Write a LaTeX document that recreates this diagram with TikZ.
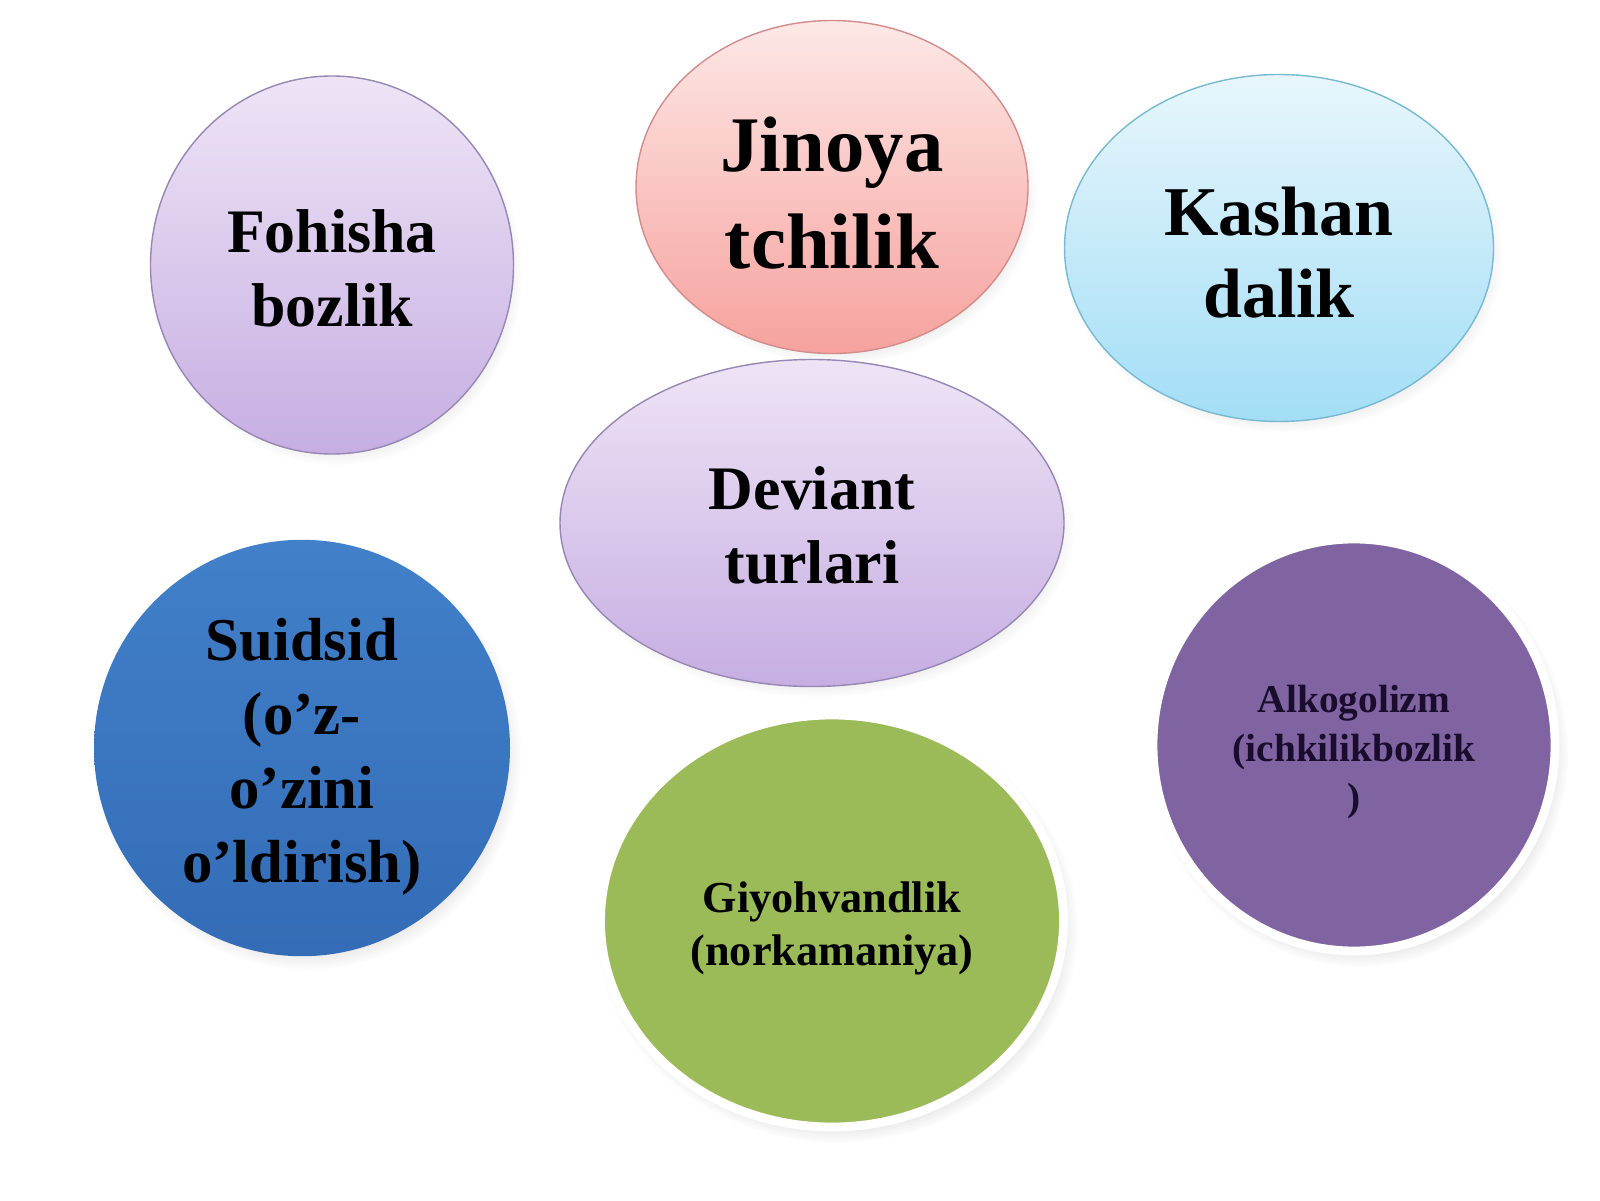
\documentclass[tikz,border=0pt]{standalone}
\usepackage{fontspec}
\setmainfont{Liberation Serif}
\usetikzlibrary{shapes.geometric, shadows}
\definecolor{lilacTop}{RGB}{238,228,246}
\definecolor{lilacBottom}{RGB}{198,174,226}
\definecolor{lilacEdge}{RGB}{150,135,180}
\definecolor{pinkTop}{RGB}{253,232,230}
\definecolor{pinkBottom}{RGB}{246,162,158}
\definecolor{pinkEdge}{RGB}{210,140,140}
\definecolor{skyTop}{RGB}{232,246,252}
\definecolor{skyBottom}{RGB}{162,222,246}
\definecolor{skyEdge}{RGB}{120,185,210}
\definecolor{suidTop}{RGB}{66,128,202}
\definecolor{suidBottom}{RGB}{52,108,182}
\definecolor{giyohGreen}{RGB}{155,187,89}
\definecolor{alkoPurple}{RGB}{128,100,162}
\definecolor{alkoText}{RGB}{25,12,45}
\tikzset{
    bubble/.style={ellipse, inner sep=0pt, align=center, font=\bfseries},
    soft/.style={bubble, thin, circular drop shadow={shadow scale=1.02, shadow yshift=-2pt, opacity=0.25}},
    lilac/.style={soft, top color=lilacTop, bottom color=lilacBottom, draw=lilacEdge},
    pink/.style={soft, top color=pinkTop, bottom color=pinkBottom, draw=pinkEdge},
    sky/.style={soft, top color=skyTop, bottom color=skyBottom, draw=skyEdge},
    rimmed/.style={bubble, draw=white, line width=2.5pt, circular drop shadow={shadow scale=1.04, shadow yshift=-2pt, opacity=0.35}}
}
% strut that pushes the first line down a little
\newcommand{\sunk}[1]{\rule{0pt}{#1}}

\begin{document}
\begin{tikzpicture}
    % Page and background
    \fill[white] (0,0) rectangle (16,12);
    \useasboundingbox (0,0) rectangle (16,12);

    % Upper row of bubbles
    \node[lilac, minimum width=3.63cm, minimum height=3.78cm,
          font=\bfseries\fontsize{17.6}{21}\selectfont] (fohisha) at (3.32,9.35) {\sunk{13.9pt}Fohisha\\bozlik};
    \node[pink, minimum width=3.92cm, minimum height=3.33cm,
          font=\bfseries\fontsize{22.4}{27.6}\selectfont] (jinoya) at (8.32,10.13) {\sunk{19pt}Jinoya\\tchilik};
    \node[sky, minimum width=4.29cm, minimum height=3.47cm,
          font=\bfseries\fontsize{19.9}{23.5}\selectfont] (kashan) at (12.79,9.52) {\sunk{16.4pt}Kashan\\dalik};

    % Centre bubble
    \node[lilac, minimum width=5.04cm, minimum height=3.27cm,
          font=\bfseries\fontsize{17.6}{21}\selectfont] (deviant) at (8.12,6.77) {\sunk{13.6pt}Deviant\\turlari};

    % Lower bubbles
    \node[bubble, top color=suidTop, bottom color=suidBottom,
          circular drop shadow={shadow scale=1.03, shadow yshift=-2pt, opacity=0.3},
          minimum width=4.16cm, minimum height=4.16cm,
          font=\bfseries\fontsize{17.3}{21}\selectfont] (suidsid) at (3.02,4.52) {\sunk{17.1pt}Suidsid\\(o’z-\\o’zini\\o’ldirish)};
    \node[rimmed, fill=giyohGreen, minimum width=4.63cm, minimum height=4.12cm,
          font=\bfseries\fontsize{12.6}{15.2}\selectfont] (giyoh) at (8.32,2.79) {\sunk{12.8pt}Giyohvandlik\\(norkamaniya)};
    \node[rimmed, fill=alkoPurple, text=alkoText, minimum width=4.02cm, minimum height=4.12cm,
          font=\bfseries\fontsize{11.2}{14}\selectfont] (alko) at (13.54,4.55) {\sunk{11.8pt}Alkogolizm\\(ichkilikbozlik\\)};
\end{tikzpicture}
\end{document}
